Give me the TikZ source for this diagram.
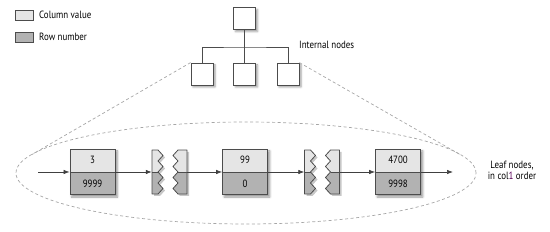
\documentclass[tikz,border=0pt]{standalone}
\usepackage{fontspec}
\setmainfont{PT Sans}[FakeStretch=0.85]
\usetikzlibrary{arrows.meta,shapes.multipart,shadows.blur,backgrounds}
\definecolor{colfill}{gray}{0.90}
\definecolor{rowfill}{gray}{0.70}
\definecolor{edgeclr}{gray}{0.30}
\begin{document}
\begin{tikzpicture}[x=1pt,y=-1pt,font=\fontsize{10.5}{12}\selectfont]
  \tikzset{inode/.style={draw=edgeclr,fill=white,line width=0.8pt,minimum size=22pt,inner sep=0pt,
      blur shadow={shadow xshift=2pt,shadow yshift=-2pt,shadow blur steps=4}},
    leaf/.style={rectangle split,rectangle split parts=2,draw=edgeclr,line width=0.8pt,
      rectangle split part fill={colfill,rowfill},minimum width=45pt,inner xsep=2pt,inner ysep=7pt,
      text height=7pt,text depth=1pt},
    key/.style={draw=edgeclr,line width=0.7pt,minimum width=18pt,minimum height=10pt,inner sep=0pt},
    lnk/.style={draw=black!75,line width=0.7pt,-{Latex[length=6pt,width=4.5pt]}},
    cone/.style={draw=black!35,line width=0.7pt,dash pattern=on 3pt off 2.5pt},
    lpiece/.style={insert path={(-17.5,-22) -- (-11.5,-22) -- (-6.5,-16.5) -- (-11.5,-11) -- (-6.5,-5.5)
      -- (-11.5,0) -- (-6.5,5.5) -- (-11.5,11) -- (-6.5,16.5) -- (-11.5,22) -- (-17.5,22) -- cycle}},
    rpiece/.style={insert path={(17.5,-22) -- (8.5,-22) -- (3.5,-16.5) -- (8.5,-11) -- (3.5,-5.5)
      -- (8.5,0) -- (3.5,5.5) -- (8.5,11) -- (3.5,16.5) -- (8.5,22) -- (17.5,22) -- cycle}}}
  \useasboundingbox (0,0) rectangle (550,232);

  % legend
  \node[key,fill=colfill] (kc) at (24,15) {};
  \node[key,fill=rowfill] (kr) at (24,37) {};
  \node[anchor=west,inner sep=0pt] (kct) at (39,15) {Column value};
  \node[anchor=west,inner sep=0pt] (krt) at (39,37) {Row number};

  % leaf outline and cone
  \coordinate (ctr) at (246,173);
  \coordinate (tl) at (32,154.5);
  \coordinate (tr) at (460,154.5);
  \draw[cone] (ctr) ellipse [x radius=230pt,y radius=51pt];

  % internal nodes
  \node[inode] (top) at (244.5,18.5) {};
  \node[inode] (i1) at (202,74) {};
  \node[inode] (i2) at (244.5,74) {};
  \node[inode] (i3) at (288,74) {};
  \coordinate (bus) at (244.5,47);
  \draw[cone] (i1.north west) -- (tl);
  \draw[cone] (i3.north east) -- (tr);
  \draw[edgeclr,line width=0.8pt] (top.south) -- (bus);
  \draw[edgeclr,line width=0.8pt] (i1.north) |- (bus) -| (i3.north);
  \draw[edgeclr,line width=0.8pt] (i2.north) -- (bus);
  \node[anchor=west,inner sep=0pt] (itxt) at (299,45) {Internal nodes};

  % leaf nodes
  \node[leaf] (b1) at (92.5,172) {3\nodepart{two}9999};
  \node[leaf] (b2) at (245,172) {99\nodepart{two}0};
  \node[leaf] (b3) at (398,172) {4700\nodepart{two}9998};
  \begin{pgfonlayer}{background}
    \foreach \b in {b1,b2,b3}
      \path[blur shadow={shadow xshift=2pt,shadow yshift=-2pt,shadow blur steps=4}]
        (\b.north west) rectangle (\b.south east);
  \end{pgfonlayer}

  % gaps in the chain
  \foreach \cx/\nm in {169.5/g1,322/g2}{
    \node[minimum width=35pt,minimum height=44pt,inner sep=0pt] (\nm) at (\cx,172) {};
    \begin{scope}[shift={(\cx,172)}]
      \fill[black!22,shift={(2,2)},lpiece];
      \fill[black!22,shift={(2,2)},rpiece];
      \begin{scope}
        \clip[lpiece];
        \fill[colfill] (-20,-22) rectangle (0,0);
        \fill[rowfill] (-20,0) rectangle (0,22);
      \end{scope}
      \begin{scope}
        \clip[rpiece];
        \fill[colfill] (0,-22) rectangle (20,0);
        \fill[rowfill] (0,0) rectangle (20,22);
      \end{scope}
      \draw[edgeclr,line width=0.8pt,line join=round,lpiece];
      \draw[edgeclr,line width=0.8pt,line join=round,rpiece];
      \draw[edgeclr,line width=0.8pt] (-17.5,0) -- (-11.5,0) (8.5,0) -- (17.5,0);
    \end{scope}
  }

  \coordinate (in) at (38,172);
  \coordinate (out) at (453,172);
  \draw[lnk] (in) -- (b1.west);
  \draw[lnk] (b1.east) -- (g1.west);
  \draw[lnk] (g1.east) -- (b2.west);
  \draw[lnk] (b2.east) -- (g2.west);
  \draw[lnk] (g2.east) -- (b3.west);
  \draw[lnk] (b3.east) -- (out);
  \node[align=center,inner sep=0pt] (ltxt) at (512,170) {Leaf nodes,\\[-1pt]in col\textcolor{violet!70!black}{1} order};
\end{tikzpicture}
\end{document}
